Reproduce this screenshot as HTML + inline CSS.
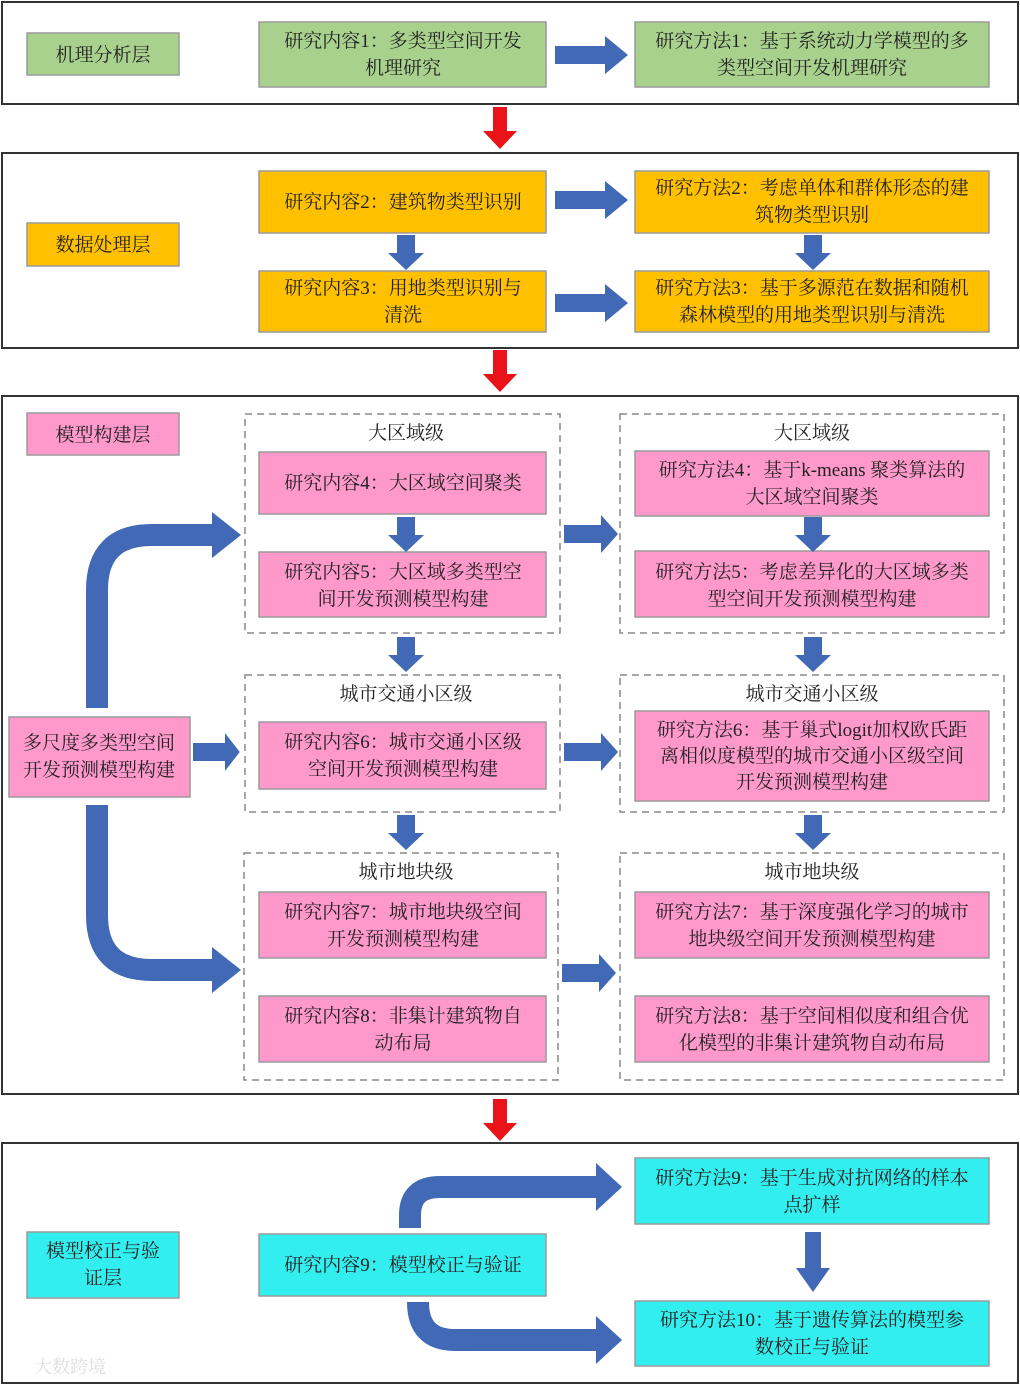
<!DOCTYPE html>
<html><head><meta charset="utf-8"><style>
html,body{margin:0;padding:0;background:#fff}
svg text{font-family:"Liberation Serif","Noto Serif CJK SC",serif;font-size:19px;fill:#222;text-anchor:middle}
</style></head><body>
<svg width="1020" height="1385" viewBox="0 0 1020 1385" xmlns="http://www.w3.org/2000/svg">
<defs>
<g id="rA"><path d="M0,-9 H50 V-19 L73,0 L50,19 V9 H0 Z" fill="#4169b5"/></g>
<g id="dA"><path d="M-9,0 H9 V18 H18 L0,35 L-18,18 H-9 Z" fill="#4169b5"/></g>
<g id="redA"><path d="M-7,0 H7 V24 H17 L0,42 L-17,24 H-7 Z" fill="#e8141a"/></g>
</defs>
<g fill="none" stroke="#333" stroke-width="2">
<rect x="2" y="2" width="1016" height="102"/>
<rect x="2" y="153" width="1016" height="195"/>
<rect x="2" y="396" width="1016" height="698"/>
<rect x="2" y="1143" width="1016" height="240"/>
</g>
<use href="#redA" x="500" y="107"/>
<use href="#redA" x="500" y="350"/>
<use href="#redA" x="500" y="1099"/>
<g stroke="#9a9a9a" stroke-width="1.5">
<rect x="27" y="33" width="152" height="42" fill="#a9d18e"/>
<rect x="259" y="22" width="287" height="65" fill="#a9d18e"/>
<rect x="635" y="22" width="354" height="65" fill="#a9d18e"/>
<rect x="27" y="223" width="152" height="43" fill="#ffc000"/>
<rect x="259" y="171" width="287" height="62" fill="#ffc000"/>
<rect x="635" y="171" width="354" height="62" fill="#ffc000"/>
<rect x="259" y="271" width="287" height="61" fill="#ffc000"/>
<rect x="635" y="271" width="354" height="61" fill="#ffc000"/>
</g>
<g fill="none" stroke="#888" stroke-width="1.5" stroke-dasharray="7,5">
<rect x="245" y="414" width="315" height="219"/>
<rect x="620" y="414" width="384" height="219"/>
<rect x="245" y="675" width="315" height="137"/>
<rect x="620" y="675" width="384" height="137"/>
<rect x="244" y="853" width="314" height="227"/>
<rect x="620" y="853" width="384" height="227"/>
</g>
<g stroke="#9a9a9a" stroke-width="1.5" fill="#ff99cc">
<rect x="27" y="413" width="152" height="42"/>
<rect x="259" y="452" width="287" height="62"/>
<rect x="259" y="552" width="287" height="65"/>
<rect x="635" y="451" width="354" height="65"/>
<rect x="635" y="551" width="354" height="66"/>
<rect x="259" y="722" width="287" height="67"/>
<rect x="635" y="711" width="354" height="90"/>
<rect x="259" y="892" width="287" height="66"/>
<rect x="259" y="996" width="287" height="66"/>
<rect x="635" y="892" width="354" height="66"/>
<rect x="635" y="996" width="354" height="66"/>
<rect x="9" y="717" width="181" height="80"/>
</g>
<g stroke="#9a9a9a" stroke-width="1.5" fill="#33eeee">
<rect x="27" y="1232" width="152" height="66"/>
<rect x="259" y="1234" width="287" height="62"/>
<rect x="635" y="1158" width="354" height="66"/>
<rect x="635" y="1301" width="354" height="65"/>
</g>
<use href="#rA" x="555" y="55"/>
<use href="#rA" x="555" y="200"/>
<use href="#rA" x="555" y="303"/>
<use href="#dA" x="406" y="235"/>
<use href="#dA" x="813" y="235"/>
<g transform="translate(564,534) scale(0.74,1)"><use href="#rA"/></g>
<g transform="translate(564,752) scale(0.74,1)"><use href="#rA"/></g>
<g transform="translate(562,973) scale(0.74,1)"><use href="#rA"/></g>
<g transform="translate(193,752) scale(0.64,1)"><use href="#rA"/></g>
<use href="#dA" x="406" y="517"/>
<use href="#dA" x="813" y="517"/>
<use href="#dA" x="406" y="637"/>
<use href="#dA" x="813" y="637"/>
<use href="#dA" x="406" y="815"/>
<use href="#dA" x="813" y="815"/>
<path d="M813,1232 V1270" stroke="#4169b5" stroke-width="16"/>
<path d="M796,1268 L813,1292 L830,1268 Z" fill="#4169b5"/>
<g fill="none" stroke="#4169b5" stroke-width="22">
<path d="M97,708 V590 Q97,535 152,535 H215"/>
<path d="M97,805 V915 Q97,970 152,970 H215"/>
<path d="M410,1228 V1215 Q410,1187 440,1187 H598"/>
<path d="M418,1302 Q418,1340 455,1340 H598"/>
</g>
<path d="M212,512 L241,535 L212,558 Z" fill="#4169b5"/>
<path d="M212,947 L241,970 L212,993 Z" fill="#4169b5"/>
<path d="M596,1163 L622,1187 L596,1211 Z" fill="#4169b5"/>
<path d="M596,1316 L622,1340 L596,1364 Z" fill="#4169b5"/>
<text x="103" y="61">机理分析层</text>
<text x="403" y="47">研究内容1：多类型空间开发</text>
<text x="403" y="74">机理研究</text>
<text x="812" y="47">研究方法1：基于系统动力学模型的多</text>
<text x="812" y="74">类型空间开发机理研究</text>
<text x="103" y="251">数据处理层</text>
<text x="403" y="208">研究内容2：建筑物类型识别</text>
<text x="812" y="194">研究方法2：考虑单体和群体形态的建</text>
<text x="812" y="221">筑物类型识别</text>
<text x="403" y="294">研究内容3：用地类型识别与</text>
<text x="403" y="321">清洗</text>
<text x="812" y="294">研究方法3：基于多源范在数据和随机</text>
<text x="812" y="321">森林模型的用地类型识别与清洗</text>
<text x="103" y="441">模型构建层</text>
<text x="406" y="439">大区域级</text>
<text x="812" y="439">大区域级</text>
<text x="403" y="489">研究内容4：大区域空间聚类</text>
<text x="812" y="476">研究方法4：基于k-means 聚类算法的</text>
<text x="812" y="503">大区域空间聚类</text>
<text x="403" y="578">研究内容5：大区域多类型空</text>
<text x="403" y="605">间开发预测模型构建</text>
<text x="812" y="578">研究方法5：考虑差异化的大区域多类</text>
<text x="812" y="605">型空间开发预测模型构建</text>
<text x="406" y="700">城市交通小区级</text>
<text x="812" y="700">城市交通小区级</text>
<text x="403" y="748">研究内容6：城市交通小区级</text>
<text x="403" y="775">空间开发预测模型构建</text>
<text x="812" y="736">研究方法6：基于巢式logit加权欧氏距</text>
<text x="812" y="762">离相似度模型的城市交通小区级空间</text>
<text x="812" y="788">开发预测模型构建</text>
<text x="99" y="749">多尺度多类型空间</text>
<text x="99" y="776">开发预测模型构建</text>
<text x="406" y="878">城市地块级</text>
<text x="812" y="878">城市地块级</text>
<text x="403" y="918">研究内容7：城市地块级空间</text>
<text x="403" y="945">开发预测模型构建</text>
<text x="812" y="918">研究方法7：基于深度强化学习的城市</text>
<text x="812" y="945">地块级空间开发预测模型构建</text>
<text x="403" y="1022">研究内容8：非集计建筑物自</text>
<text x="403" y="1049">动布局</text>
<text x="812" y="1022">研究方法8：基于空间相似度和组合优</text>
<text x="812" y="1049">化模型的非集计建筑物自动布局</text>
<text x="103" y="1257">模型校正与验</text>
<text x="103" y="1284">证层</text>
<text x="403" y="1271">研究内容9：模型校正与验证</text>
<text x="812" y="1184">研究方法9：基于生成对抗网络的样本</text>
<text x="812" y="1211">点扩样</text>
<text x="812" y="1326">研究方法10：基于遗传算法的模型参</text>
<text x="812" y="1353">数校正与验证</text>
<text x="70" y="1373" style="fill:#ddd;font-size:18px">大数跨境</text>
</svg>
</body></html>
